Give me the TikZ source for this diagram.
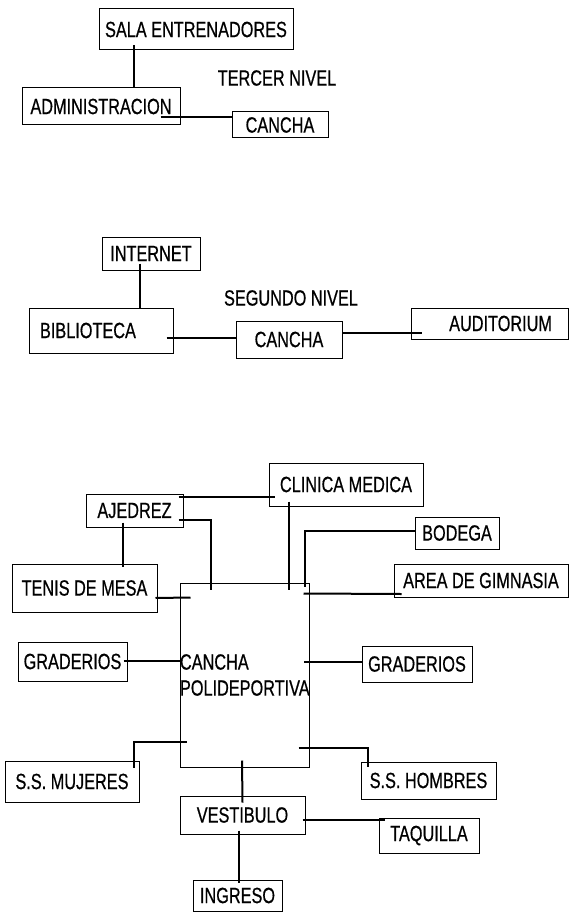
\documentclass[tikz,border=0pt]{standalone}
\usepackage{fontspec}
\setmainfont{Liberation Sans}[FakeStretch=0.74, FakeBold=0.6]
\usetikzlibrary{calc}

\begin{document}
\begin{tikzpicture}[x=1pt, y=-1pt,
    every node/.style={font=\fontsize{22}{26}\selectfont},
    room/.style={draw, line width=1pt, inner sep=0pt},
    link/.style={line width=2pt}]
    \useasboundingbox (0,0) rectangle (570,912);

    % Tercer nivel
    \node[room, minimum width=194pt, minimum height=41pt] (sala) at (196,29.5) {SALA ENTRENADORES};
    \node[room, minimum width=158pt, minimum height=37pt] (adm) at (101,106.5) {ADMINISTRACION};
    \node[room, minimum width=96pt, minimum height=26pt] (cancha3) at (280,125) {CANCHA};
    \node (nivel3) at (277,78) {TERCER NIVEL};
    \draw[link] ($(sala.south)+(-62,-5)$) -- ($(adm.north)+(33,1)$);
    \draw[link] ($(adm.east)+(-20,10.5)$) -- ($(cancha3.west)+(0,-8)$);

    % Segundo nivel
    \node[room, minimum width=98pt, minimum height=33pt] (inet) at (151,253.5) {INTERNET};
    \node[room, text width=122pt, inner xsep=11pt, minimum height=45pt, align=left] (bib) at (101,330.5) {BIBLIOTECA};
    \node[room, minimum width=106pt, minimum height=37pt] (cancha2) at (289,339.5) {CANCHA};
    \node[room, text width=125pt, inner xsep=16pt, minimum height=31pt, align=right] (aud) at (489.5,323.5) {AUDITORIUM};
    \node (nivel2) at (291,298) {SEGUNDO NIVEL};
    \draw[link] ($(inet.south)+(-11,-7)$) -- ($(bib.north)+(39,1)$);
    \draw[link] ($(bib.east)+(-7,7.5)$) -- ($(cancha2.west)+(0,-1.5)$);
    \draw[link] ($(cancha2.east)+(0,-6.5)$) -- ($(aud.west)+(11,9.5)$);

    % Primer nivel
    \node[room, text width=129pt, minimum height=184pt, align=left] (cancha) at (244.5,675) {CANCHA\\POLIDEPORTIVA};
    \node[room, minimum width=154pt, minimum height=43pt] (clinica) at (346,484.5) {CLINICA MEDICA};
    \node[room, minimum width=97pt, minimum height=33pt] (ajedrez) at (134.5,510.5) {AJEDREZ};
    \node[room, minimum width=145pt, minimum height=48pt] (tenis) at (84.5,588) {TENIS DE MESA};
    \node[room, minimum width=84pt, minimum height=32pt] (bodega) at (457,533) {BODEGA};
    \node[room, minimum width=174pt, minimum height=33pt] (gimnasia) at (481,580.5) {AREA DE GIMNASIA};
    \node[room, minimum width=109pt, minimum height=39pt] (gradizq) at (72.5,661.5) {GRADERIOS};
    \node[room, minimum width=110pt, minimum height=36pt] (gradder) at (417,664) {GRADERIOS};
    \node[room, minimum width=134pt, minimum height=41pt] (mujeres) at (72,781.5) {S.S. MUJERES};
    \node[room, minimum width=135pt, minimum height=37pt] (hombres) at (428.5,780.5) {S.S. HOMBRES};
    \node[room, minimum width=125pt, minimum height=38pt] (vestibulo) at (242.5,815) {VESTIBULO};
    \node[room, minimum width=100pt, minimum height=35pt] (taquilla) at (429,835.5) {TAQUILLA};
    \node[room, minimum width=89pt, minimum height=31pt] (ingreso) at (237.5,895.5) {INGRESO};

    % Conexiones
    \draw[link] ($(ajedrez.east)+(-5,-13.5)$) -- ($(clinica.west)+(6,12.5)$);
    \draw[link] ($(ajedrez.east)+(-5,9.5)$) -| ($(cancha.north)+(-33.5,7)$);
    \draw[link] ($(ajedrez.south)+(-11.5,-5)$) -- ($(tenis.north)+(38.5,3)$);
    \draw[link] ($(tenis.east)+(-2,10)$) -- ($(cancha.north west)+(11,15)$);
    \draw[link] ($(clinica.south)+(-57,-5)$) -- ($(cancha.north)+(44.5,7)$);
    \draw[link] ($(bodega.west)+(1,-2)$) -| ($(cancha.north east)+(-5,4)$);
    \draw[link] ($(gimnasia.west)+(8,13.5)$) -- ($(cancha.north east)+(-6,11)$);
    \draw[link] ($(gradizq.east)+(-4,-0.5)$) -- ($(cancha.west)+(2,-14)$);
    \draw[link] ($(gradder.west)+(1,-2)$) -- ($(cancha.east)+(-6,-13)$);
    \draw[link] ($(cancha.south west)+(7,-26)$) -| ($(mujeres.north)+(62,7)$);
    \draw[link] ($(cancha.south east)+(-11,-20)$) -| ($(hombres.north)+(-60.5,5)$);
    \draw[link] ($(cancha.south)+(-2.5,-7)$) -- ($(vestibulo.north)+(0,7)$);
    \draw[link] ($(vestibulo.east)+(-3,5)$) -- ($(taquilla.west)+(6,-15.5)$);
    \draw[link] ($(vestibulo.south)+(-3.5,-4)$) -- ($(ingreso.north)+(1.5,3)$);
\end{tikzpicture}
\end{document}
